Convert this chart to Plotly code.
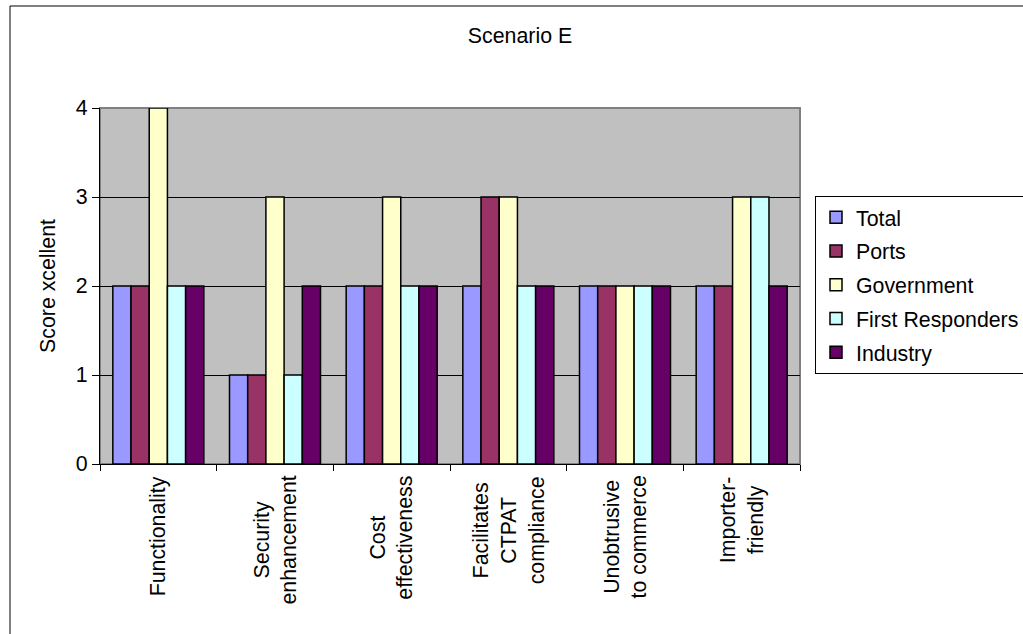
import plotly.graph_objects as go

# Criteria and the scores given by each stakeholder group
categories = [
    "Functionality",
    "Security enhancement",
    "Cost effectiveness",
    "Facilitates CTPAT compliance",
    "Unobtrusive to commerce",
    "Importer-friendly",
]
category_labels = [
    "Functionality",
    "Security<br>enhancement",
    "Cost<br>effectiveness",
    "Facilitates<br>CTPAT<br>compliance",
    "Unobtrusive<br>to commerce",
    "Importer-<br>friendly",
]
total = [2, 1, 2, 2, 2, 2]
ports = [2, 1, 2, 3, 2, 2]
government = [4, 3, 3, 3, 2, 3]
first_responders = [2, 1, 2, 2, 2, 3]
industry = [2, 2, 2, 2, 2, 2]

series = [
    ("Total", total, "#9999FF"),
    ("Ports", ports, "#993366"),
    ("Government", government, "#FFFFCC"),
    ("First Responders", first_responders, "#CCFFFF"),
    ("Industry", industry, "#660066"),
]

FONT = "Liberation Sans, Arial, sans-serif"
FS = 21.33

W, H = 1023, 634
L, R, T, B = 100, 800, 108, 464  # plot area in pixels


def px(x):
    return (x - L) / (R - L)


def py(y):
    return (B - y) / (B - T)


fig = go.Figure()
for i, (name, vals, color) in enumerate(series):
    fig.add_trace(go.Bar(
        x=categories, y=vals, name=name, legendgroup=f"g{i}",
        marker=dict(color=color, line=dict(color="black", width=1.5)),
    ))

# Rotated category labels under the axis
annotations = []
for cat, lab in zip(categories, category_labels):
    annotations.append(dict(
        x=cat, xref="x", y=py(474), yref="paper",
        text=lab, textangle=-90, showarrow=False,
        xanchor="center", yanchor="top", align="center",
        font=dict(family=FONT, size=FS, color="black"),
    ))

shapes = [
    # gray frame around the plot area
    dict(type="rect", xref="paper", yref="paper", x0=0, x1=1, y0=0, y1=1,
         line=dict(color="#808080", width=2), layer="between"),
    # outer chart border
    dict(type="rect", xref="paper", yref="paper",
         x0=px(10), x1=px(1040), y0=py(650), y1=py(6),
         line=dict(color="black", width=1), layer="below"),
]

fig.update_layout(
    width=W, height=H,
    margin=dict(l=L, r=W - R, t=T, b=H - B, autoexpand=False),
    paper_bgcolor="white",
    plot_bgcolor="#C0C0C0",
    font=dict(family=FONT, size=FS, color="black"),
    barmode="group",
    bargap=0.22,
    bargroupgap=0,
    title=dict(text="Scenario E", x=520 / W, xref="container", xanchor="center",
               y=1 - 36 / H, yref="container", yanchor="middle",
               font=dict(family=FONT, size=FS, color="black")),
    xaxis=dict(
        type="category", tickson="boundaries", ticks="outside", ticklen=6,
        tickcolor="black", showticklabels=False, showgrid=False,
        showline=True, linecolor="black", linewidth=1,
    ),
    yaxis=dict(
        range=[0, 4], dtick=1, ticks="outside", ticklen=7, tickcolor="black",
        showgrid=True, gridcolor="black", gridwidth=1, zeroline=False,
        showline=True, linecolor="black", linewidth=1,
        tickfont=dict(family=FONT, size=FS, color="black"),
        title=dict(text="Score xcellent", standoff=14,
                   font=dict(family=FONT, size=FS, color="black")),
    ),
    legend=dict(
        x=px(815), xanchor="left", y=py(196), yanchor="top",
        bgcolor="white", bordercolor="black", borderwidth=1,
        font=dict(family=FONT, size=FS, color="black"),
        traceorder="grouped", tracegroupgap=3,
    ),
    annotations=annotations,
    shapes=shapes,
    showlegend=True,
)

fig.write_html("out.html")
